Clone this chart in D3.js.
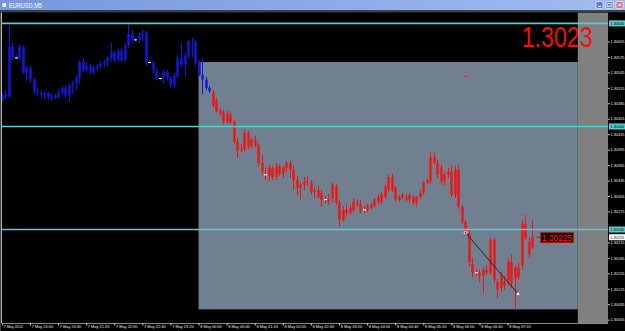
<!DOCTYPE html>
<html>
<head>
<meta charset="utf-8">
<script src="https://cdn.jsdelivr.net/npm/d3@7"></script>
<style>
  html, body { margin: 0; padding: 0; background: #000; overflow: hidden; }
  svg { display: block; }
  text { font-family: "Liberation Sans", Arial, sans-serif; }
</style>
</head>
<body>
<svg id="chart" width="625" height="331"></svg>
<script>
// EURUSD M5, 7-8 May 2012
const symbol = "EURUSD,M5"
const firstBar = "2012-05-07 19:20"   // bars every 5 minutes from here
const blueUntil = 59                  // bars up to this index are drawn blue

const opens = [1.30492,1.30502,1.30498,1.30595,1.30573,1.30573,1.30595,1.30544,1.30554,1.30531,
  1.30507,1.30505,1.30502,1.30505,1.30498,1.30500,1.30496,1.30507,1.30515,1.30500,
  1.30519,1.30523,1.30534,1.30566,1.30550,1.30558,1.30546,1.30554,1.30558,1.30562,
  1.30566,1.30573,1.30583,1.30569,1.30587,1.30568,1.30597,1.30620,1.30608,1.30608,
  1.30616,1.30622,1.30564,1.30564,1.30548,1.30533,1.30533,1.30546,1.30534,1.30519,
  1.30538,1.30573,1.30560,1.30577,1.30606,1.30604,1.30566,1.30540,1.30531,1.30515,
  1.30507,1.30490,1.30470,1.30467,1.30449,1.30463,1.30449,1.30410,1.30393,1.30395,
  1.30428,1.30401,1.30414,1.30404,1.30369,1.30346,1.30344,1.30360,1.30342,1.30362,
  1.30348,1.30360,1.30369,1.30356,1.30336,1.30321,1.30327,1.30333,1.30331,1.30313,
  1.30317,1.30311,1.30298,1.30298,1.30301,1.30323,1.30292,1.30259,1.30278,1.30272,
  1.30278,1.30292,1.30288,1.30278,1.30278,1.30282,1.30286,1.30294,1.30294,1.30303,
  1.30317,1.30342,1.30321,1.30298,1.30303,1.30303,1.30298,1.30303,1.30292,1.30303,
  1.30311,1.30331,1.30333,1.30381,1.30369,1.30360,1.30333,1.30346,1.30352,1.30307,
  1.30356,1.30284,1.30255,1.30233,1.30173,1.30156,1.30156,1.30150,1.30162,1.30156,
  1.30220,1.30138,1.30127,1.30140,1.30142,1.30177,1.30146,1.30166,1.30171,1.30251,
  1.30216,1.30206]
const highs = [1.30505,1.30511,1.30637,1.30604,1.30579,1.30599,1.30597,1.30558,1.30558,1.30534,
  1.30515,1.30511,1.30509,1.30507,1.30505,1.30503,1.30513,1.30519,1.30519,1.30523,
  1.30529,1.30540,1.30569,1.30573,1.30566,1.30562,1.30558,1.30562,1.30566,1.30569,
  1.30577,1.30602,1.30587,1.30591,1.30593,1.30601,1.30643,1.30628,1.30612,1.30622,
  1.30628,1.30626,1.30569,1.30568,1.30554,1.30536,1.30550,1.30550,1.30538,1.30544,
  1.30579,1.30602,1.30585,1.30608,1.30612,1.30608,1.30569,1.30569,1.30536,1.30519,
  1.30511,1.30496,1.30476,1.30472,1.30470,1.30469,1.30453,1.30418,1.30406,1.30434,
  1.30432,1.30418,1.30422,1.30408,1.30385,1.30360,1.30366,1.30364,1.30369,1.30367,
  1.30364,1.30373,1.30375,1.30364,1.30344,1.30331,1.30342,1.30344,1.30336,1.30321,
  1.30325,1.30317,1.30305,1.30309,1.30331,1.30329,1.30298,1.30286,1.30292,1.30288,
  1.30301,1.30298,1.30298,1.30286,1.30290,1.30292,1.30301,1.30309,1.30313,1.30327,
  1.30346,1.30348,1.30325,1.30307,1.30311,1.30309,1.30311,1.30307,1.30305,1.30317,
  1.30334,1.30340,1.30391,1.30391,1.30375,1.30366,1.30352,1.30360,1.30366,1.30364,
  1.30366,1.30288,1.30259,1.30239,1.30185,1.30164,1.30162,1.30166,1.30171,1.30224,
  1.30224,1.30144,1.30158,1.30150,1.30185,1.30191,1.30171,1.30177,1.30259,1.30268,
  1.30224,1.30259]
const lows = [1.30488,1.30492,1.30496,1.30569,1.30569,1.30569,1.30542,1.30529,1.30525,1.30503,
  1.30498,1.30496,1.30494,1.30492,1.30490,1.30492,1.30494,1.30502,1.30496,1.30488,
  1.30505,1.30511,1.30523,1.30546,1.30544,1.30542,1.30542,1.30548,1.30552,1.30554,
  1.30556,1.30566,1.30564,1.30566,1.30564,1.30566,1.30593,1.30602,1.30604,1.30602,
  1.30606,1.30558,1.30562,1.30544,1.30529,1.30529,1.30523,1.30529,1.30515,1.30515,
  1.30534,1.30554,1.30536,1.30573,1.30575,1.30558,1.30538,1.30502,1.30511,1.30505,
  1.30476,1.30467,1.30459,1.30443,1.30445,1.30445,1.30406,1.30379,1.30389,1.30391,
  1.30395,1.30397,1.30399,1.30362,1.30346,1.30336,1.30333,1.30336,1.30336,1.30344,
  1.30340,1.30352,1.30340,1.30317,1.30307,1.30298,1.30317,1.30325,1.30307,1.30301,
  1.30300,1.30284,1.30290,1.30288,1.30292,1.30288,1.30245,1.30255,1.30265,1.30268,
  1.30274,1.30284,1.30270,1.30272,1.30274,1.30278,1.30282,1.30290,1.30288,1.30300,
  1.30313,1.30313,1.30294,1.30294,1.30298,1.30294,1.30292,1.30288,1.30284,1.30300,
  1.30307,1.30327,1.30329,1.30366,1.30340,1.30327,1.30325,1.30340,1.30303,1.30301,
  1.30280,1.30251,1.30230,1.30169,1.30146,1.30150,1.30138,1.30117,1.30152,1.30152,
  1.30136,1.30107,1.30119,1.30123,1.30132,1.30127,1.30086,1.30142,1.30162,1.30220,
  1.30185,1.30202]
const closes = [1.30502,1.30498,1.30595,1.30573,1.30573,1.30595,1.30544,1.30554,1.30531,1.30507,
  1.30505,1.30502,1.30505,1.30498,1.30500,1.30496,1.30507,1.30515,1.30500,1.30519,
  1.30523,1.30534,1.30566,1.30550,1.30558,1.30546,1.30554,1.30558,1.30562,1.30566,
  1.30573,1.30583,1.30569,1.30587,1.30568,1.30597,1.30620,1.30608,1.30608,1.30616,
  1.30622,1.30564,1.30564,1.30548,1.30533,1.30533,1.30546,1.30534,1.30519,1.30538,
  1.30573,1.30560,1.30577,1.30606,1.30604,1.30562,1.30540,1.30531,1.30515,1.30509,
  1.30480,1.30470,1.30465,1.30449,1.30465,1.30449,1.30410,1.30393,1.30395,1.30428,
  1.30401,1.30414,1.30404,1.30369,1.30352,1.30346,1.30360,1.30342,1.30362,1.30348,
  1.30360,1.30369,1.30356,1.30336,1.30321,1.30327,1.30333,1.30331,1.30313,1.30317,
  1.30303,1.30298,1.30298,1.30294,1.30327,1.30292,1.30259,1.30278,1.30272,1.30282,
  1.30294,1.30288,1.30274,1.30278,1.30286,1.30288,1.30298,1.30303,1.30307,1.30323,
  1.30342,1.30317,1.30298,1.30303,1.30307,1.30298,1.30307,1.30292,1.30303,1.30311,
  1.30331,1.30336,1.30381,1.30369,1.30346,1.30333,1.30346,1.30352,1.30307,1.30356,
  1.30284,1.30255,1.30235,1.30177,1.30156,1.30156,1.30150,1.30162,1.30156,1.30220,
  1.30142,1.30123,1.30152,1.30131,1.30177,1.30136,1.30166,1.30148,1.30251,1.30224,
  1.30191,1.30225]

const priceTicks = [1.30065,1.30095,1.30125,1.30155,1.30185,1.30215,1.30245,1.30275,1.30305,1.30335,
  1.30365,1.30395,1.30425,1.30455,1.30485,1.30515,1.30545,1.30575,1.30605,1.30635]
const timeLabels = ["7 May 2012","7 May 20:00","7 May 20:40","7 May 21:20","7 May 22:00","7 May 22:40",
  "7 May 23:20","8 May 00:00","8 May 00:40","8 May 01:20","8 May 02:00","8 May 02:40","8 May 03:20",
  "8 May 04:00","8 May 04:40","8 May 05:20","8 May 06:00","8 May 06:40","8 May 07:20"]
const timeLabelAt = ["2012-05-07 19:20","2012-05-07 20:00","2012-05-07 20:40","2012-05-07 21:20",
  "2012-05-07 22:00","2012-05-07 22:40","2012-05-07 23:20","2012-05-08 00:00","2012-05-08 00:40",
  "2012-05-08 01:20","2012-05-08 02:00","2012-05-08 02:40","2012-05-08 03:20","2012-05-08 04:00",
  "2012-05-08 04:40","2012-05-08 05:20","2012-05-08 06:00","2012-05-08 06:40","2012-05-08 07:20"]

// objects on the chart
const hLines = [1.3064, 1.3044, 1.3024]
const bid = 1.30225
const bigPrice = "1.3023"
const boxTimes = ["2012-05-08 00:00", "2012-05-08 09:00"]
const boxPrices = [1.30565, 1.30085]
const trendTimes = ["2012-05-08 06:20", "2012-05-08 07:35"]
const trendPrices = [1.30234, 1.30115]
const dashMark = {time: "2012-05-08 06:20", price: 1.30537}

const svg = d3.select("#chart")
const W = 625, H = 331
const plot = {left: 2, right: 608, top: 12.5, bottom: 323}

const parse = d3.timeParse("%Y-%m-%d %H:%M")
const t0 = parse(firstBar)
const bars = closes.map((c, i) => ({
  t: d3.timeMinute.offset(t0, i * 5), o: opens[i], h: highs[i], l: lows[i], c: c, i: i
}))

const x = d3.scaleTime()
  .domain([t0, parse(boxTimes[1])])
  .range([1.9, 577.8])
const y = d3.scaleLinear()
  .domain([1.3024, 1.3064])
  .range([229.5, 23.4])

// window frame
svg.append("rect").attr("width", W).attr("height", H).attr("fill", "#000")

const grad = svg.append("defs").append("linearGradient").attr("id", "titlebar")
grad.append("stop").attr("offset", "0%").attr("stop-color", "#7896de")
grad.append("stop").attr("offset", "100%").attr("stop-color", "#a2bcf0")
svg.append("rect").attr("width", W).attr("height", 10.5).attr("fill", "url(#titlebar)")
svg.append("rect").attr("y", 10.5).attr("width", W).attr("height", 2).attr("fill", "#3a3a3a")
svg.append("rect").attr("x", 2).attr("y", 2.5).attr("width", 4.5).attr("height", 5)
  .attr("fill", "#e8eefc").attr("stroke", "#5070c0").attr("stroke-width", 0.5)
svg.append("text").attr("x", 9).attr("y", 8).attr("fill", "#fff")
  .style("font-size", "6.5px").attr("textLength", 33).attr("lengthAdjust", "spacingAndGlyphs")
  .text(symbol)

const buttons = [{x: 596, c: "#5a7fe2"}, {x: 606, c: "#5a7fe2"}, {x: 616, c: "#d9727f"}]
buttons.forEach((b, k) => {
  svg.append("rect").attr("x", b.x).attr("y", 1.5).attr("width", 7).attr("height", 7)
    .attr("rx", 1).attr("fill", b.c).attr("stroke", "#fff").attr("stroke-width", 0.6)
  if (k === 0) {
    svg.append("line").attr("x1", b.x + 2).attr("x2", b.x + 5).attr("y1", 6.5).attr("y2", 6.5)
      .attr("stroke", "#fff").attr("stroke-width", 1)
  } else if (k === 1) {
    svg.append("rect").attr("x", b.x + 1.8).attr("y", 3.3).attr("width", 3.4).attr("height", 3.4)
      .attr("fill", "none").attr("stroke", "#fff").attr("stroke-width", 0.8)
  } else {
    svg.append("path").attr("d", `M${b.x + 2},3.5L${b.x + 5},6.5M${b.x + 5},3.5L${b.x + 2},6.5`)
      .attr("stroke", "#fff").attr("stroke-width", 1)
  }
})

svg.append("rect").attr("x", 0).attr("y", plot.top).attr("width", 1).attr("height", H - plot.top).attr("fill", "#404040")
svg.append("line").attr("x1", 1.5).attr("x2", 1.5).attr("y1", plot.top).attr("y2", plot.bottom)
  .attr("stroke", "#b8b8b8").attr("stroke-width", 1)

// plot area
svg.append("clipPath").attr("id", "plotclip").append("rect")
  .attr("x", plot.left).attr("y", plot.top)
  .attr("width", plot.right - plot.left).attr("height", plot.bottom - plot.top)
const g = svg.append("g").attr("clip-path", "url(#plotclip)")

g.append("rect")
  .attr("x", x(parse(boxTimes[0])))
  .attr("y", y(boxPrices[0]))
  .attr("width", x(parse(boxTimes[1])) - x(parse(boxTimes[0])))
  .attr("height", y(boxPrices[1]) - y(boxPrices[0]))
  .attr("fill", "#708090")

g.append("rect")
  .attr("x", x(parse(boxTimes[1])))
  .attr("y", plot.top)
  .attr("width", plot.right - x(parse(boxTimes[1])))
  .attr("height", plot.bottom - plot.top)
  .attr("fill", "#808080")

// candles
const bodyW = 2.4
const colorOf = d => d.i <= blueUntil ? "#1414e6" : "#f01414"

g.selectAll("line.wick").data(bars).join("line")
  .attr("class", "wick")
  .attr("x1", d => Math.round(x(d.t)) + 0.5)
  .attr("x2", d => Math.round(x(d.t)) + 0.5)
  .attr("y1", d => y(d.h))
  .attr("y2", d => y(d.l))
  .attr("stroke", colorOf)
  .attr("stroke-width", 1)

g.selectAll("rect.body").data(bars.filter(d => d.o !== d.c)).join("rect")
  .attr("class", "body")
  .attr("x", d => Math.round(x(d.t)) + 0.5 - bodyW / 2)
  .attr("y", d => y(Math.max(d.o, d.c)))
  .attr("width", bodyW)
  .attr("height", d => Math.max(1, Math.abs(y(d.o) - y(d.c))))
  .attr("fill", colorOf)

g.selectAll("line.doji").data(bars.filter(d => d.o === d.c)).join("line")
  .attr("class", "doji")
  .attr("x1", d => Math.round(x(d.t)) + 0.5 - 1.5)
  .attr("x2", d => Math.round(x(d.t)) + 0.5 + 1.5)
  .attr("y1", d => y(d.c))
  .attr("y2", d => y(d.c))
  .attr("stroke", "#fff")
  .attr("stroke-width", 1)

// horizontal lines
g.selectAll("line.hline").data(hLines).join("line")
  .attr("class", "hline")
  .attr("x1", plot.left).attr("x2", plot.right)
  .attr("y1", d => y(d)).attr("y2", d => y(d))
  .attr("stroke", "#4fd0cc").attr("stroke-width", 1.6)

// trend line
g.append("line")
  .attr("x1", x(parse(trendTimes[0]))).attr("y1", y(trendPrices[0]))
  .attr("x2", x(parse(trendTimes[1]))).attr("y2", y(trendPrices[1]))
  .attr("stroke", "#111").attr("stroke-width", 0.8)
g.append("circle").attr("cx", x(parse(trendTimes[0]))).attr("cy", y(trendPrices[0])).attr("r", 1.3)
  .attr("fill", "none").attr("stroke", "#fff").attr("stroke-width", 0.8)
g.append("circle").attr("cx", x(parse(trendTimes[1]))).attr("cy", y(trendPrices[1])).attr("r", 1.3)
  .attr("fill", "#fff8c8")

g.append("line")
  .attr("x1", x(parse(dashMark.time)) - 1.5).attr("x2", x(parse(dashMark.time)) + 1.5)
  .attr("y1", y(dashMark.price)).attr("y2", y(dashMark.price))
  .attr("stroke", "#b84040").attr("stroke-width", 1)

// big price text
svg.append("text").attr("x", 521.7).attr("y", 46.7)
  .attr("fill", "#f01010").style("font-size", "29px")
  .attr("textLength", 71).attr("lengthAdjust", "spacingAndGlyphs")
  .text(bigPrice)

// bid label
const lastT = bars[bars.length - 1].t
g.append("line")
  .attr("x1", x(lastT) + 4).attr("x2", 540.5)
  .attr("y1", y(bid)).attr("y2", y(bid))
  .attr("stroke", "#d01010").attr("stroke-width", 1)
svg.append("rect").attr("x", 540.7).attr("y", y(bid) - 4.6).attr("width", 32.6).attr("height", 10)
  .attr("fill", "#1c0000").attr("stroke", "#c01010").attr("stroke-width", 0.8)
svg.append("text").attr("x", 542).attr("y", y(bid) + 3.6)
  .attr("fill", "#f02020").style("font-size", "9.5px")
  .attr("textLength", 30).attr("lengthAdjust", "spacingAndGlyphs")
  .text(d3.format(".5f")(bid))

// time axis
svg.append("line").attr("x1", plot.left).attr("x2", plot.right)
  .attr("y1", plot.bottom + 0.5).attr("y2", plot.bottom + 0.5)
  .attr("stroke", "#8a8a8a").attr("stroke-width", 1)

const xAxis = d3.axisBottom(x)
  .tickValues(timeLabelAt.map(parse))
  .tickFormat((d, i) => timeLabels[i])
  .tickSize(2.5)
  .tickSizeOuter(0)
const gx = svg.append("g").attr("transform", `translate(0,${plot.bottom})`).call(xAxis)
gx.select(".domain").remove()
gx.selectAll(".tick line").attr("stroke", "#c8c8c8")
gx.selectAll(".tick text")
  .attr("text-anchor", "start").attr("x", 1.2).attr("y", 2.2).attr("dy", "0.71em")
  .attr("fill", "#e6e6e6").style("font-size", "4.4px")
  .style("font-family", "'Liberation Sans', Arial, sans-serif")
  .attr("textLength", (d, i) => timeLabels[i].length * 1.95)
  .attr("lengthAdjust", "spacingAndGlyphs")

// price axis; labels under a highlighted level are hidden, as in the terminal
const marks = hLines.map(p => ({p: p, bg: "#4fd0cc"})).concat([{p: bid, bg: "#fff"}])
const covered = p => marks.some(m => Math.abs(y(m.p) - y(p)) < 5)
const yAxis = d3.axisRight(y)
  .tickValues(priceTicks.filter(p => !covered(p)))
  .tickFormat(d3.format(".5f"))
  .tickSize(1.8)
  .tickSizeOuter(0)
const gy = svg.append("g").attr("transform", `translate(${plot.right},0)`).call(yAxis)
gy.select(".domain").remove()
gy.selectAll(".tick line").attr("stroke", "#d0d0d0")
gy.selectAll(".tick text")
  .attr("x", 2.4).attr("fill", "#e6e6e6").style("font-size", "3.9px")
  .style("font-family", "'Liberation Sans', Arial, sans-serif")

marks.forEach(m => {
  svg.append("rect").attr("x", plot.right + 1).attr("y", y(m.p) - 3).attr("width", W - plot.right).attr("height", 6)
    .attr("fill", m.bg)
  svg.append("text").attr("x", plot.right + 2.2).attr("y", y(m.p) + 1.4)
    .attr("fill", "#000").style("font-size", "3.9px")
    .text(d3.format(".5f")(m.p))
})
</script>
</body>
</html>
